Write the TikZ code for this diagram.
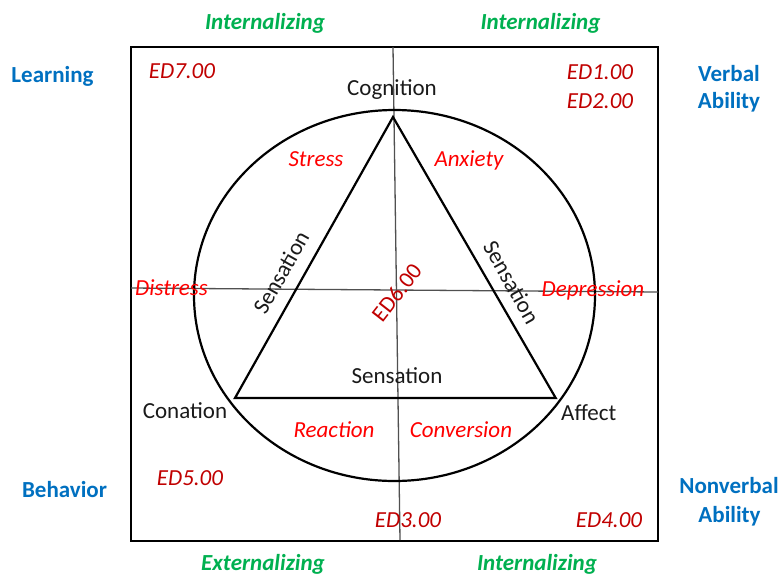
\documentclass[tikz,border=0pt]{standalone}
\usepackage{fontspec}
\setmainfont{Carlito}
\definecolor{grn}{HTML}{00B050}
\definecolor{blu}{HTML}{0070C0}
\definecolor{brd}{HTML}{FF0000}
\definecolor{drd}{HTML}{C00000}
\definecolor{ink}{HTML}{1A1A1A}
\definecolor{axis}{HTML}{505050}
\begin{document}
\begin{tikzpicture}[x=1pt,y=-1pt,
  lbl/.style={font=\fontsize{23}{27}\selectfont, inner sep=0pt, anchor=base},
  side/.style={lbl, text=grn, font=\fontsize{23}{27}\selectfont\bfseries\itshape},
  corner/.style={lbl, text=blu, font=\fontsize{23}{27}\selectfont\bfseries},
  edl/.style={lbl, text=drd, font=\fontsize{23}{27}\selectfont\itshape},
  emo/.style={lbl, text=brd, font=\fontsize{23}{27}\selectfont\itshape},
  blk/.style={lbl, text=ink},
  frameline/.style={draw=black, line width=2pt},
  figline/.style={draw=black, line width=2.2pt},
  axisline/.style={draw=axis, line width=1.3pt}]
\useasboundingbox (0,0) rectangle (782,574);
% frame
\coordinate (bl) at (131,541);
\coordinate (tr) at (658,47);
\draw[frameline] (bl) rectangle (tr);
% axes
\coordinate (vtop) at (393,47);
\coordinate (vbot) at (400,540);
\coordinate (hl) at (131,288);
\coordinate (hr) at (658,292);
\draw[axisline] (vtop) -- (vbot);
\draw[axisline] (hl) -- (hr);
% ellipse
\coordinate (ec) at (394.5,295.5);
\draw[figline] (ec) ellipse [x radius=200.5, y radius=185.5];
% triangle
\coordinate (apex) at (393,117);
\coordinate (lv) at (235,398);
\coordinate (rv) at (555.7,398);
\draw[figline, line join=miter] (apex) -- (lv) -- (rv) -- cycle;
% outer labels
\node[side] (int1) at (265,29) {Internalizing};
\node[side] (int2) at (540.5,29) {Internalizing};
\node[side] (ext1) at (263,570) {Externalizing};
\node[side] (int3) at (537,570) {Internalizing};
\node[corner] (learn) at (52.5,82) {Learning};
\node[corner] (verb) at (729,81) {Verbal};
\node[corner] (abil1) at (729,108) {Ability};
\node[corner] (beh) at (64.5,497) {Behavior};
\node[corner] (nonv) at (729,493) {Nonverbal};
\node[corner] (abil2) at (729.5,522) {Ability};
% ED labels
\node[edl] (ed7) at (182,78) {ED7.00};
\node[edl] (ed1) at (600,79) {ED1.00};
\node[edl] (ed2) at (600,108) {ED2.00};
\node[edl] (ed5) at (190,485) {ED5.00};
\node[edl] (ed3) at (408,527) {ED3.00};
\node[edl] (ed4) at (609,527) {ED4.00};
\node[font=\fontsize{23}{27}\selectfont, text=drd, inner sep=0pt, rotate=52] (ed6) at (396.7,292.5) {ED6.00};
% emotion labels
\node[emo] (stress) at (316,166) {Stress};
\node[emo] (anx) at (469,166) {Anxiety};
\node[emo] (dis) at (171.5,295) {Distress};
\node[emo] (dep) at (593,296) {Depression};
\node[emo] (reac) at (334,437) {Reaction};
\node[emo] (conv) at (461,437) {Conversion};
% black labels
\node[blk] (cog) at (392,95) {Cognition};
\node[blk] (con) at (185,418) {Conation};
\node[blk] (aff) at (588.7,420) {Affect};
\node[blk] (sensb) at (397,383) {Sensation};
\node[font=\fontsize{23}{27}\selectfont, text=ink, inner sep=0pt, rotate=60.6] (sensl) at (281,272.5) {Sensation};
\node[font=\fontsize{23}{27}\selectfont, text=ink, inner sep=0pt, rotate=-60.6] (sensr) at (511.5,282.5) {Sensation};
\end{tikzpicture}
\end{document}
